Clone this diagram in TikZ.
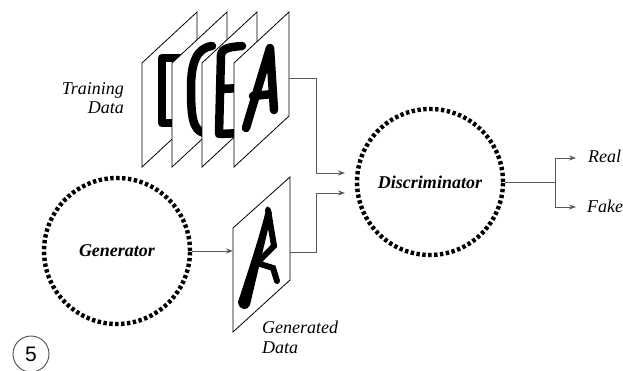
\documentclass[tikz,border=0pt]{standalone}
\usepackage{fontspec}
\setmainfont{Liberation Serif}
\setsansfont{Liberation Sans}
\usetikzlibrary{arrows.meta}

\tikzset{
  dotring/.style={circle, minimum size=146pt, inner sep=0pt, draw=black,
    line width=4.4pt, dash pattern=on 3.4pt off 2.5pt,
    font=\fontsize{18}{20}\selectfont\bfseries\itshape},
  conn/.style={draw=black!65, line width=0.9pt},
  arr/.style={conn, -{Stealth[length=7pt,width=5pt]}},
  panel/.style={draw=black, line width=0.8pt, fill=white},
  glyph/.style={draw=black, line width=8.5pt, line cap=round, line join=round},
  caption/.style={font=\fontsize{18}{19.5}\selectfont\itshape, inner sep=0pt},
}

% one sheet of the training stack, left edge at x = #1
\newcommand\sheetpath[1]{(#1,63) -- ++(55,-51) -- ++(0,104) -- ++(-55,51) -- cycle}

\begin{document}
\begin{tikzpicture}[x=1pt, y=-1pt]
\useasboundingbox (0,0) rectangle (623,371);

% ---- stack of training sheets ----
\path[panel] \sheetpath{142};
\begin{scope}\clip \sheetpath{142};
  \draw[glyph] (190,58) -- (162,58) -- (162,123) -- (190,123);
\end{scope}
\path[panel] \sheetpath{172};
\begin{scope}\clip \sheetpath{172};
  \draw[glyph] (212,46) .. controls (197,48) and (191,62) .. (191,88)
                        .. controls (191,118) and (193,130) .. (204,133);
\end{scope}
\path[panel] \sheetpath{202};
\begin{scope}\clip \sheetpath{202};
  \draw[glyph] (242,46) .. controls (230,47) and (222,48) .. (221,55)
               -- (219,134) -- (242,133);
  \draw[glyph] (220,89) -- (242,88);
\end{scope}
\path[panel] \sheetpath{234};
\begin{scope}\clip \sheetpath{234};
  \draw[glyph] (246,128) -- (270,48) -- (274,110);
  \draw[glyph] (253,96) -- (273,94);
\end{scope}
\coordinate (tOut) at (289,78);

\node[caption, align=right, anchor=north east] (tlabel) at (124,82) {Training\\Data};

% ---- generated sheet: a handwritten A ----
\path[panel] (233,228) -- (290,177) -- (290,280) -- (233,332) -- cycle;
% left leg, thick at the foot
\fill (267,206) .. controls (260,235) and (250,265) .. (238,302)
      .. controls (239,311) and (248,311) .. (250,305)
      .. controls (257,275) and (265,242) .. (272,213) -- cycle;
% right stroke with the looped bar
\draw[glyph, line width=6pt, line join=miter] (268,210) -- (274,246)
      -- (257,263) -- (273,268) -- (277,281);
\coordinate (gIn) at (233,251);
\coordinate (gOut) at (290,252);
\node[caption, align=left, anchor=north west] (glabel) at (262,321) {Generated\\Data};

% ---- networks ----
\node[dotring] (gen) at (117,251) {Generator};
\node[dotring] (disc) at (430,182) {Discriminator};

\coordinate (dHi) at (345,173);
\coordinate (dLo) at (345,193);
\coordinate (split) at (555,182);
\coordinate (rTip) at (576,158);
\coordinate (fTip) at (576,207);

\draw[arr] (gen) -- (gIn);
\draw[arr] (tOut) -- ++(27,0) |- (dHi);
\draw[arr] (gOut) -- ++(26,0) |- (dLo);
\draw[conn] (disc) -- (split);
\draw[arr] (split) |- (rTip);
\draw[arr] (split) |- (fTip);

\node[caption, anchor=base west] (real) at (588,163) {Real};
\node[caption, anchor=base west] (fake) at (587,213) {Fake};

% ---- figure number ----
\node[circle, draw=black!70, line width=0.9pt, minimum size=36pt, inner sep=0pt,
      font=\sffamily\fontsize{21}{21}\selectfont] (five) at (31,354) {5};
\end{tikzpicture}
\end{document}
